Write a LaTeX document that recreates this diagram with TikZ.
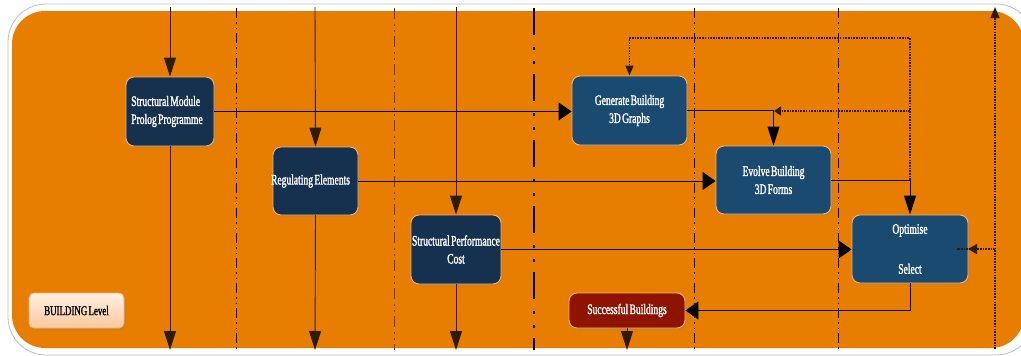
\documentclass[tikz,border=0pt]{standalone}
\usepackage{fontspec}
\setmainfont{Liberation Serif}[FakeStretch=0.66, FakeBold=1.5, WordSpace=0.55]
\usetikzlibrary{arrows.meta,shadows,decorations.markings}

\definecolor{panel}{HTML}{E77E02}
\definecolor{navy}{HTML}{15314F}
\definecolor{steel}{HTML}{1B4A71}
\definecolor{maroon}{HTML}{8E1400}
\definecolor{rim}{HTML}{F5B47A}
\definecolor{frame}{HTML}{BDBDBD}
\definecolor{wire}{HTML}{2E1B05}
\definecolor{lanebrown}{HTML}{6A3A05}
\definecolor{peachtop}{HTML}{FFF1E4}
\definecolor{peachbot}{HTML}{FBC79A}

\begin{document}
\begin{tikzpicture}[x=1pt,y=-1pt,
  box/.style={draw=rim, line width=0.9pt, rounded corners=8pt, text=white,
    font=\fontsize{14.5}{18}\selectfont, align=center, inner sep=1pt,
    drop shadow={opacity=0.3, shadow xshift=1.5pt, shadow yshift=-1.5pt}},
  darkbox/.style={box, fill=navy},
  bluebox/.style={box, fill=steel},
  flow/.style={draw=black, line width=0.9pt},
  vflow/.style={draw=wire, line width=0.9pt},
  loop/.style={draw=wire, line width=1.5pt, dash pattern=on 1.6pt off 1.1pt},
  vtip/.style={-{Triangle[length=19pt,width=12pt]}},
  htip/.style={-{Triangle[length=13pt,width=18pt]}},
  lanethin/.style={draw=black, line width=0.8pt,
    dash pattern=on 10pt off 4pt on 1.5pt off 4pt on 1.5pt off 4pt},
  lanedots/.style={draw=lanebrown, line width=1pt,
    dash pattern=on 11pt off 5pt on 1.5pt off 4.5pt on 1.5pt off 4.5pt},
  lanebold/.style={draw=black, line width=2pt,
    dash pattern=on 27pt off 12pt on 3pt off 11pt on 3pt off 10pt}
]
\useasboundingbox (0,0) rectangle (1021,356);

% outer frame and orange panel
\draw[frame, line width=0.8pt, fill=white, rounded corners=38pt] (8,4) rectangle (1034,355);
\fill[panel, rounded corners=33pt] (12,11) rectangle (1024,348);

% lane separators
\draw[lanethin] (236,8) -- (236,350);
\draw[lanedots] (394,8) -- (394,350);
\draw[lanebold] (534,8) -- (534,350);
\draw[lanethin] (694,8) -- (694,350);
\draw[lanethin] (838,8) -- (838,350);

% process boxes
\node[darkbox, minimum width=88pt, minimum height=69pt, align=left] (sm) at (170,111.5)
  {Structural Module\\Prolog Programme\hspace*{6pt}};
\node[darkbox, minimum width=85pt, minimum height=68pt] (re) at (315.5,181)
  {\hspace*{-10pt}Regulating Elements};
\node[darkbox, minimum width=86pt, minimum height=69pt] (sp) at (456,249.5)
  {Structural Performance\\Cost};
\node[bluebox, minimum width=115pt, minimum height=69pt] (gb) at (629.5,110.5)
  {Generate Building\\3D Graphs};
\node[bluebox, minimum width=115pt, minimum height=68pt] (eb) at (773.5,180)
  {Evolve Building\\3D Forms};
\node[bluebox, minimum width=116pt, minimum height=68pt] (os) at (910,249)
  {Optimise\\[22pt]Select};
\node[box, fill=maroon, minimum width=116pt, minimum height=35pt] (sb) at (627,310.5)
  {Successful Buildings};
\node[box, top color=peachtop, bottom color=peachbot, text=black,
  font=\fontsize{13.5}{16}\selectfont, minimum width=95pt, minimum height=35pt,
  rounded corners=5pt] (bl) at (76.5,310.5) {BUILDING Level};

% free ends at the top and bottom of the lanes
\coordinate (smin) at (170,7);
\coordinate (smout) at (170,350);
\coordinate (rein) at (315,7);
\coordinate (reout) at (315,350);
\coordinate (spin) at (456,7);
\coordinate (spout) at (456,350);
\coordinate (sbout) at (627,350);
\coordinate (rbot) at (995,349);
\coordinate (rtop) at (995,7);
\coordinate (rmid) at (995,249);
\coordinate (rend) at (957,249);
\coordinate (lpTop) at (910,38);
\coordinate (lpMid) at (910,111);
\coordinate (lpEnd) at (774,111);
\coordinate (lpBase) at (910,180);

% vertical inputs and outputs
\draw[vflow, vtip] (smin) -- (sm.north);
\draw[vflow, vtip] (sm.south) -- (smout);
\draw[vflow, vtip] (rein) -- (re.north);
\draw[vflow, vtip] (re.south) -- (reout);
\draw[vflow, vtip] (spin) -- (sp.north);
\draw[vflow, vtip] (sp.south) -- (spout);
\draw[vflow, vtip] (sb.south) -- (sbout);

% main flow
\draw[flow, htip] (sm.east) -- (sm.east -| gb.west);
\draw[flow, vtip] (gb.east) -| (eb.north);
\draw[flow, htip] (re.east) -- (re.east -| eb.west);
\draw[flow, vtip] (eb.east) -| (os.north);
\draw[flow, htip] (sp.east) -- (sp.east -| os.west);
\draw[flow, htip] (os.south) |- (sb.east);

% feedback loops
\draw[loop, -{Triangle[length=10pt,width=8pt]}] (lpBase) -- (lpTop) -| (gb.north);
\draw[loop, -{Triangle[length=7pt,width=9pt]}] (lpMid) -- (lpEnd);
\draw[loop, -{Triangle[length=11pt,width=9pt]}] (rbot) -- (rtop);
\draw[loop, postaction={decorate, decoration={markings,
  mark=at position 0.71 with {\arrow{Triangle[length=9pt,width=10pt]}}}}] (rmid) -- (rend);
\end{tikzpicture}
\end{document}
